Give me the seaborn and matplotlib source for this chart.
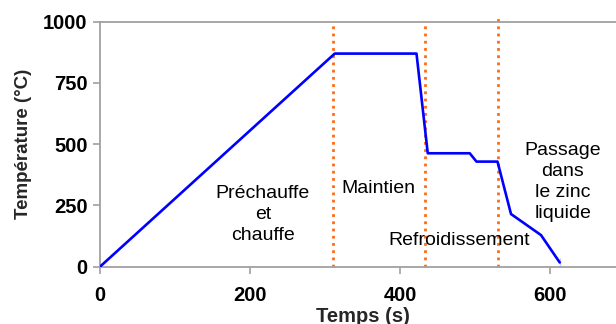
import pandas as pd
import matplotlib
matplotlib.use("Agg")
import matplotlib.pyplot as plt
import seaborn as sns

# Température du cycle thermique
temps = [0, 313, 422, 437, 493, 502, 530, 548, 588, 613, 613]
temperature = [0, 870, 870, 463, 463, 429, 429, 215, 129, 34, 0]

# limites des phases (lignes pointillées)
limites = [310, 433, 530]
limites_haut = [985, 985, 1015]

y_ticks = [0, 250, 500, 750, 1000]
x_ticks = [0, 200, 400, 600]

phases = ["Préchauffe\net\nchauffe", "Maintien", "Refroidissement",
          "Passage\ndans\nle zinc\nliquide"]
phase_x = [217, 371, 479, 617]
phase_y = [214, 319, 108, 345]

sns.set_theme(style="white")
plt.rcParams['font.family'] = ['Liberation Sans', 'DejaVu Sans']

df = pd.DataFrame({"Temps": temps, "Temp": temperature})

fig = plt.figure(figsize=(6.16, 3.24), dpi=100)
ax = fig.add_axes([100 / 616, 0.1769, 525 / 616, 0.756])

sns.lineplot(data=df, x="Temps", y="Temp", sort=False, color="#0000ff",
             linewidth=1.9, ax=ax, zorder=3)

for xv, yh in zip(limites, limites_haut):
    ax.plot([xv, xv], [0, yh], color="#ff6a13", linestyle=(0, (1, 1.6)),
            linewidth=2.0, clip_on=False, zorder=2)

for txt, xv, yv in zip(phases, phase_x, phase_y):
    ax.text(xv, yv, txt, ha="center", va="center", fontsize=14,
            color="black", linespacing=1.32, zorder=4)

ax.set_xlim(0, 700)
ax.set_ylim(0, 1000)
ax.set_xticks(x_ticks)
ax.set_yticks(y_ticks)
ax.set_xticklabels([str(v) for v in x_ticks], fontsize=14.5, fontweight="bold")
ax.set_yticklabels([str(v) for v in y_ticks], fontsize=14.5, fontweight="bold")
ax.set_xlabel("Temps (s)", fontsize=14.5, fontweight="bold", labelpad=1)
ax.set_ylabel("Température (°C)", fontsize=13.5, fontweight="bold", labelpad=8)

for side in ["left", "bottom", "top"]:
    ax.spines[side].set_color("#a0a0a0")
    ax.spines[side].set_linewidth(1.3)
ax.spines["right"].set_visible(False)
ax.tick_params(axis="both", which="major", direction="out", length=5,
               width=1.2, color="#a0a0a0", labelcolor="black", pad=4)
ax.tick_params(axis="x", pad=9)
ax.xaxis.set_ticks_position("bottom")
ax.yaxis.set_ticks_position("left")
ax.grid(False)

fig.savefig("out.png", dpi=100)
